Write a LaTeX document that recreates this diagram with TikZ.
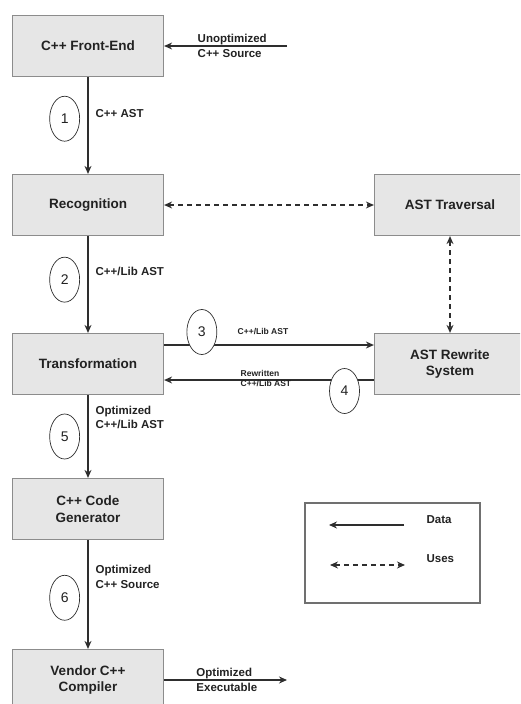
\documentclass[tikz,border=0pt]{standalone}
\usepackage{fontspec}
\setmainfont{Liberation Sans}
\usetikzlibrary{arrows.meta, positioning, shapes.geometric}
\definecolor{cfill}{HTML}{E6E6E6}
\definecolor{cedge}{HTML}{8C8C8C}
\definecolor{cline}{HTML}{2E2E2E}
\definecolor{ctext}{HTML}{222222}
\definecolor{cframe}{HTML}{707070}
\tikzset{
  every picture/.style={line width=1.2pt},
  box/.style={draw=cedge, fill=cfill, align=center, minimum width=151pt, minimum height=61pt, inner sep=2pt, text=ctext, font=\bfseries\fontsize{13.5}{16.5}\selectfont},
  arrow/.style={-{Stealth[length=8pt, width=7pt]}, draw=cline, line width=1.3pt},
  uses/.style={{Stealth[length=8pt, width=7pt]}-{Stealth[length=8pt, width=7pt]}, draw=cline, line width=1.3pt, dash pattern=on 5pt off 4pt},
  tag/.style={ellipse, draw=cline, fill=white, line width=0.7pt, minimum width=30pt, minimum height=45pt, inner sep=0pt, text=ctext, font=\fontsize{14}{16}\selectfont},
  note/.style={align=left, inner sep=1pt, text=ctext, font=\bfseries\fontsize{11.5}{14.5}\selectfont},
  small/.style={align=left, inner sep=1pt, text=ctext, font=\bfseries\fontsize{8.5}{10.5}\selectfont},
}

\begin{document}
\begin{tikzpicture}[x=1pt, y=-1pt]
  \useasboundingbox (0,0) rectangle (520,704);
  \clip (0,0) rectangle (520,704);
  % main pipeline
  \node[box] (front) at (88,46) {C++ Front-End};
  \node[box] (recog) at (88,205) {Recognition};
  \node[box] (trans) at (88,364) {Transformation};
  \node[box] (cgen) at (88,509) {C++ Code\\Generator};
  \node[box] (vendor) at (88,680) {Vendor C++\\Compiler};
  \node[box] (trav) at (450,205) {AST Traversal};
  \node[box] (rewrite) at (450,364) {AST Rewrite\\System};
  \coordinate (src) at (287,46);
  \coordinate (exe) at (287,680);
  % data flow
  \draw[arrow] (src) -- node[note, anchor=west, pos=0.74] (srclbl) {Unoptimized\\C++ Source} (front);
  \draw[arrow] (front) -- node[note, right=6pt, pos=0.38] (lbl1) {C++ AST} node[tag, left=8pt, pos=0.43] (n1) {1} (recog);
  \draw[arrow] (recog) -- node[note, right=6pt, pos=0.37] (lbl2) {C++/Lib AST} node[tag, left=8pt, pos=0.45] (n2) {2} (trans);
  \draw[arrow] ([yshift=19pt]trans.east) -- node[tag, pos=0.18, yshift=13pt] (n3) {3} node[small, anchor=west, pos=0.343, yshift=13pt] (lbl3) {C++/Lib AST} ([yshift=19pt]rewrite.west);
  \draw[arrow] ([yshift=-16pt]rewrite.west) -- node[tag, pos=0.14, yshift=-11pt] (n4) {4} node[small, anchor=west, pos=0.643, yshift=1.5pt] (lbl4) {Rewritten\\C++/Lib AST} ([yshift=-16pt]trans.east);
  \draw[arrow] (trans) -- node[note, right=6pt, pos=0.27] (lbl5) {Optimized\\C++/Lib AST} node[tag, left=8pt, pos=0.5] (n5) {5} (cgen);
  \draw[arrow] (cgen) -- node[note, right=6pt, pos=0.34] (lbl6) {Optimized\\C++ Source} node[tag, left=8pt, pos=0.53] (n6) {6} (vendor);
  \draw[arrow] (vendor) -- node[note, anchor=west, pos=0.25] (exelbl) {Optimized\\Executable} (exe);
  % uses
  \draw[uses] (recog) -- (trav);
  \draw[uses] (trav) -- (rewrite);
  % legend
  \node[draw=cframe, line width=2.6pt, minimum width=175pt, minimum height=100pt] (legend) at (392.5,553) {};
  \coordinate (d0) at (329,525);
  \coordinate (d1) at (404,525);
  \coordinate (u0) at (330,565);
  \coordinate (u1) at (405,565);
  \draw[arrow] (d1) -- (d0);
  \draw[uses] (u0) -- (u1);
  \node[note, anchor=west] (datalbl) at (425,520) {Data};
  \node[note, anchor=west] (useslbl) at (425,559) {Uses};
\end{tikzpicture}
\end{document}
